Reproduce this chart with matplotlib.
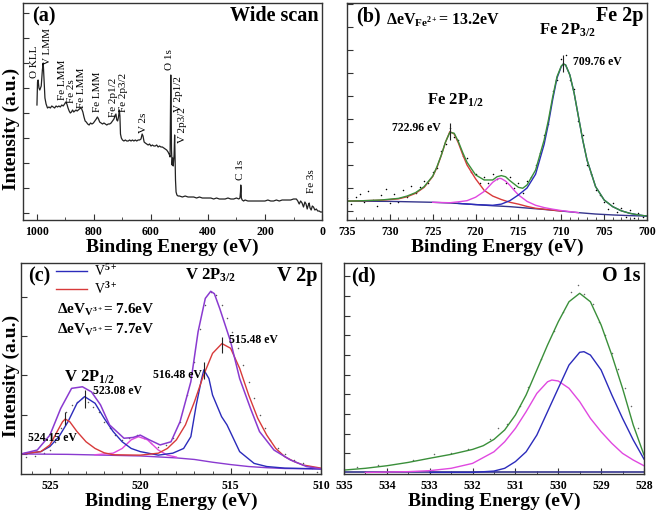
import matplotlib
matplotlib.use("Agg")
import matplotlib.pyplot as plt
from matplotlib.ticker import MultipleLocator

plt.rcParams['font.family'] = ['Liberation Serif', 'DejaVu Serif']
plt.rcParams['mathtext.fontset'] = 'custom'
plt.rcParams['mathtext.rm'] = 'Liberation Serif:bold'
plt.rcParams['mathtext.it'] = 'Liberation Serif:bold'
plt.rcParams['mathtext.bf'] = 'Liberation Serif:bold'

# ---------------- (a) wide scan ----------------
wide_be = [1000, 998, 996, 993, 990, 985, 981, 978, 975, 972, 968, 963, 958, 953, 948, 943, 938, 933,
           928, 923, 918, 913, 908, 903, 899, 895, 891, 887, 883, 879, 875, 871, 867, 863, 859, 855,
           851, 847, 843, 839, 835, 831, 827, 822, 817, 812, 807, 802, 797, 792, 788, 784, 780, 775,
           770, 765, 760, 755, 750, 745, 740, 735, 730, 726, 723, 720, 717, 714, 711, 709, 707, 704,
           700, 695, 690, 685, 680, 675, 670, 665, 660, 655, 650, 645, 640, 635, 631, 628, 624, 620,
           615, 610, 605, 600, 595, 590, 585, 580, 575, 570, 565, 560, 555, 550, 545, 540, 535, 533,
           531.5, 530.5, 529.5, 528, 526, 524, 522, 519, 517, 516, 514, 512, 509, 505, 500, 490, 480,
           470, 460, 450, 440, 430, 420, 410, 400, 390, 380, 370, 360, 350, 340, 330, 320, 310, 300,
           292, 288, 286, 285, 284, 283, 280, 275, 270, 260, 250, 240, 230, 220, 210, 200, 190, 180,
           170, 160, 150, 140, 130, 120, 110, 100, 90, 85, 80, 75, 70, 65, 60, 56, 52, 48, 45, 42, 38,
           34, 30, 25, 20, 15, 10, 5, 2]
wide_int = [4.32, 5.24, 5.32, 5.0, 4.92, 5.08, 5.72, 6.0, 5.32, 4.6, 4.36, 4.2, 4.24, 4.2, 4.28, 4.24,
            4.2, 4.28, 4.24, 4.28, 4.24, 4.32, 4.28, 4.36, 4.44, 4.36, 4.2, 4.08, 4.0, 4.04, 4.12, 4.04,
            4.08, 4.12, 4.08, 4.12, 4.16, 4.2, 4.16, 4.04, 3.84, 3.68, 3.64, 3.56, 3.52, 3.6, 3.56, 3.6,
            3.68, 3.76, 3.84, 3.76, 3.64, 3.6, 3.56, 3.6, 3.56, 3.52, 3.56, 3.56, 3.6, 3.68, 3.76, 3.88,
            3.96, 3.72, 3.68, 3.84, 4.12, 3.88, 3.16, 3.0, 2.92, 2.88, 2.92, 2.88, 2.88, 2.92, 2.88, 2.92,
            2.88, 2.92, 2.88, 2.92, 2.92, 2.96, 3.16, 3.08, 2.84, 2.8, 2.76, 2.72, 2.76, 2.68, 2.72, 2.68,
            2.68, 2.72, 2.64, 2.68, 2.64, 2.64, 2.6, 2.56, 2.52, 2.44, 2.32, 2.24, 4.12, 5.52, 4.52, 2.52,
            1.92, 2.2, 1.88, 2.32, 3.12, 2.52, 1.32, 0.84, 0.72, 0.68, 0.68, 0.64, 0.68, 0.64, 0.64, 0.64,
            0.6, 0.64, 0.6, 0.6, 0.6, 0.6, 0.56, 0.6, 0.56, 0.56, 0.56, 0.6, 0.56, 0.56, 0.6, 0.56, 0.6,
            0.84, 1.12, 1.0, 0.6, 0.52, 0.48, 0.52, 0.48, 0.48, 0.48, 0.48, 0.48, 0.48, 0.48, 0.52, 0.48,
            0.48, 0.52, 0.48, 0.52, 0.52, 0.52, 0.52, 0.56, 0.56, 0.48, 0.36, 0.48, 0.4, 0.24, 0.44, 0.36,
            0.16, 0.32, 0.4, 0.2, 0.12, 0.28, 0.24, 0.12, 0.16, 0.08, 0.08, 0.04, 0.04]
wide_labels = ["O KLL", "V LMM", "Fe LMM", "Fe 2s", "Fe LMM", "Fe LMM", "Fe 2p1/2", "Fe 2p3/2",
               "V 2s", "O 1s", "V 2p1/2", "V 2p3/2", "C 1s", "Fe 3s"]
wide_label_be = [1009, 964, 912, 878, 844, 788, 732, 697, 627, 536, 505, 490, 287, 38]
wide_label_int = [5.4, 5.92, 4.52, 4.4, 4.2, 4.04, 3.84, 4.04, 3.2, 5.72, 4.04, 2.8, 1.32, 0.8]

# ---------------- (b) Fe 2p ----------------
fe_env_be = [735, 733, 731, 729, 728, 727, 726, 725, 724.5, 724, 723.5, 723, 722.5, 722, 721.5, 721,
             720, 719, 718, 717.5, 717, 716.5, 716, 715, 714.5, 714, 713, 712, 711.5, 711, 710.5, 710,
             709.76, 709.5, 709, 708.5, 708, 707.5, 707, 706, 705, 704, 703, 702, 701, 700]
fe_env = [0.43, 0.45, 0.48, 0.55, 0.65, 0.80, 1.06, 1.52, 1.93, 2.43, 3.01, 3.42, 3.38, 3.01, 2.54, 2.12,
          1.57, 1.35, 1.35, 1.49, 1.54, 1.49, 1.32, 1.03, 0.99, 1.13, 1.78, 3.09, 3.96, 4.97, 5.84, 6.30,
          6.39, 6.35, 5.91, 5.12, 4.10, 3.09, 2.22, 1.06, 0.48, 0.19, 0.01, -0.10, -0.17, -0.22]
fe_bg_be = [735, 730, 725, 722, 720, 718, 716, 714, 712, 710, 708, 706, 704, 702, 700]
fe_bg = [0.43, 0.42, 0.38, 0.33, 0.28, 0.23, 0.19, 0.13, 0.07, 0.00, -0.07, -0.13, -0.17, -0.20, -0.22]
fe_red_be = [735, 731, 729, 728, 727, 726, 725, 724.5, 724, 723.5, 723, 722.5, 722, 721.5, 721, 720,
             719, 718, 717, 716, 715, 714, 713, 712, 710]
fe_red = [0.43, 0.47, 0.53, 0.62, 0.77, 1.03, 1.50, 1.90, 2.42, 3.0, 3.45, 3.35, 2.95, 2.45, 2.0, 1.4,
          0.9, 0.65, 0.5, 0.38, 0.3, 0.2, 0.12, 0.08, 0.0]
fe_mag_be = [725, 723, 722, 721, 720, 719, 718.5, 718, 717.5, 717.2, 717, 716.5, 716, 715.5, 715, 714,
             713, 712, 711, 710, 708]
fe_mag = [0.38, 0.36, 0.40, 0.45, 0.6, 0.85, 1.05, 1.25, 1.38, 1.42, 1.41, 1.3, 1.12, 0.9, 0.7, 0.42,
          0.25, 0.15, 0.08, 0.02, -0.07]
fe_blue_be = [722, 720, 718, 717, 716, 715, 714, 713, 712, 711.5, 711, 710.5, 710, 709.76, 709.5, 709,
              708.5, 708, 707.5, 707, 706, 705, 704, 703, 702, 701, 700]
fe_blue = [0.33, 0.28, 0.25, 0.3, 0.45, 0.7, 1.0, 1.6, 2.9, 3.8, 4.85, 5.78, 6.28, 6.39, 6.35, 5.91,
           5.12, 4.10, 3.09, 2.22, 1.06, 0.48, 0.19, 0.01, -0.1, -0.17, -0.22]
fe_raw_be = [735, 734.5, 734, 733.5, 733, 732.5, 732, 731.5, 731, 730.5, 730, 729.5, 729, 728.5, 728,
             727.5, 727, 726.5, 726, 725.5, 725, 724.5, 724, 723.5, 723, 722.5, 722, 721.5, 721, 720.5,
             720, 719.5, 719, 718.5, 718, 717.5, 717, 716.5, 716, 715.5, 715, 714.5, 714, 713.5, 713,
             712.5, 712, 711.5, 711, 710.5, 710, 709.5, 709, 708.5, 708, 707.5, 707, 706.5, 706, 705.5,
             705, 704.5, 704, 703.5, 703, 702.5, 702, 701.5, 701, 700.5, 700]
fe_raw = [0.55, 0.3, 0.6, 0.75, 0.4, 0.85, 0.5, 0.2, 0.7, 0.95, 0.35, 0.75, 0.4, 0.9, 0.6, 1.1, 0.8,
          1.05, 1.3, 1.2, 1.7, 1.85, 2.6, 2.9, 3.6, 3.2, 3.1, 2.4, 2.3, 1.7, 1.6, 1.2, 1.5, 1.2, 1.6,
          1.4, 1.8, 1.2, 1.5, 1.0, 1.2, 0.8, 1.3, 1.5, 2.0, 2.5, 3.3, 3.8, 5.2, 5.7, 6.6, 6.8, 5.7,
          5.3, 3.9, 3.3, 2.0, 1.6, 0.9, 0.7, 0.4, 0.1, 0.35, -0.05, 0.15, -0.25, 0.05, -0.3, -0.1,
          -0.25, -0.2]
fe_peaks = [722.96, 709.76]

# ---------------- (c) V 2p ----------------
v_bg_be = [526.6, 524, 522, 520, 518, 517, 516, 515, 514, 513, 512, 510]
v_bg = [0.0, -0.01, -0.03, -0.05, -0.10, -0.14, -0.21, -0.27, -0.32, -0.35, -0.37, -0.38]
v_env_be = [526.6, 525.7, 525.0, 524.4, 523.8, 523.2, 522.7, 522.2, 521.7, 520.9, 520.4, 520.0, 519.5,
            518.9, 518.3, 517.8, 517.2, 516.8, 516.4, 516.1, 515.9, 515.6, 515.0, 514.5, 513.9, 513.4,
            512.6, 511.7, 510.8, 510.0]
v_env = [0.0, 0.10, 0.48, 1.16, 1.67, 1.71, 1.58, 1.25, 0.74, 0.40, 0.42, 0.48, 0.36, 0.23, 0.31, 0.82,
         1.84, 3.11, 3.96, 4.14, 4.08, 3.70, 2.86, 1.92, 1.16, 0.57, 0.10, -0.15, -0.32, -0.38]
v5_be = [526.6, 525.5, 525, 524.5, 524, 523.5, 523.08, 522.5, 522, 521.5, 521, 520.5, 520, 519, 518.2,
         517.6, 517.2, 516.9, 516.6, 516.48, 516.2, 516.0, 515.5, 515.2, 514.5, 513.7, 513, 512, 510]
v5 = [0.0, 0.06, 0.19, 0.44, 0.82, 1.29, 1.46, 1.29, 0.91, 0.57, 0.31, 0.14, 0.06, -0.03, 0.02, 0.14,
      0.44, 1.25, 1.92, 2.14, 1.92, 1.5, 0.95, 0.74, 0.06, -0.24, -0.32, -0.36, -0.38]
v3_be = [526.6, 525.5, 525, 524.6, 524.3, 524.15, 523.9, 523.5, 523, 522.5, 522, 521.5, 520, 519,
         518.5, 518, 517.5, 517, 516.5, 516, 515.48, 515, 514.5, 514, 513.5, 513, 512.5, 512, 511.5,
         511, 510]
v3 = [0.0, 0.06, 0.23, 0.57, 0.82, 0.89, 0.82, 0.57, 0.31, 0.14, 0.03, -0.02, -0.03, 0.02, 0.14, 0.36,
      0.74, 1.33, 2.0, 2.56, 2.81, 2.69, 2.18, 1.50, 0.91, 0.48, 0.14, -0.07, -0.19, -0.28, -0.36]
v_sat_be = [522.5, 521.5, 521, 520.5, 520.1, 519.6, 519, 518.5, 518]
v_sat = [-0.02, 0.02, 0.14, 0.36, 0.44, 0.36, 0.10, -0.03, -0.08]
v_raw_be = [526.3, 525.8, 525.3, 525.0, 524.7, 524.4, 524.1, 523.8, 523.5, 523.2, 522.9, 522.6, 522.3,
            522.0, 521.7, 521.4, 521.0, 520.6, 520.2, 519.8, 519.4, 519.0, 518.6, 518.2, 517.8, 517.4,
            517.0, 516.7, 516.4, 516.1, 515.8, 515.5, 515.2, 514.9, 514.6, 514.3, 514.0, 513.7, 513.4,
            513.1, 512.8, 512.4, 512.0, 511.5, 511.0, 510.5, 510.2]
v_raw = [-0.07, -0.05, 0.02, 0.10, 0.31, 0.65, 1.08, 1.25, 1.33, 1.42, 1.33, 1.20, 1.08, 0.82, 0.65,
         0.48, 0.36, 0.40, 0.48, 0.40, 0.27, 0.19, 0.23, 0.40, 0.82, 1.50, 2.35, 3.19, 3.79, 4.13, 4.04,
         3.79, 3.45, 3.11, 2.69, 2.26, 1.84, 1.42, 0.99, 0.65, 0.36, 0.14, -0.01, -0.15, -0.24, -0.36,
         -0.45]
v_peaks = [524.15, 523.08, 516.48, 515.48]

# ---------------- (d) O 1s ----------------
o_bg_be = [535, 528]
o_bg = [-0.95, -0.95]
o_env_be = [535, 534.5, 534, 533.5, 533, 532.5, 532, 531.75, 531.5, 531.25, 531, 530.75, 530.5, 530.25,
            530, 529.75, 529.5, 529.25, 529, 528.75, 528.5, 528.25, 528]
o_env = [-0.85, -0.76, -0.63, -0.46, -0.25, -0.05, 0.20, 0.39, 0.71, 1.19, 1.95, 2.97, 4.24, 5.51, 6.69,
         7.71, 8.14, 7.71, 6.53, 5.0, 3.31, 1.44, -0.08]
o_blue_be = [533, 532, 531.5, 531.25, 531, 530.75, 530.5, 530.25, 530, 529.75, 529.5, 529.4, 529.25,
             529, 528.75, 528.5, 528.25, 528]
o_blue = [-0.97, -0.97, -0.9, -0.76, -0.42, 0.08, 0.93, 2.12, 3.31, 4.49, 5.14, 5.17, 5.0, 4.24, 2.97,
          1.78, 0.68, -0.29]
o_mag_be = [534.5, 533.5, 533, 532.5, 532, 531.5, 531.25, 531, 530.75, 530.5, 530.25, 530.15, 530,
            529.75, 529.5, 529.25, 529, 528.75, 528.5, 528.25, 528]
o_mag = [-0.97, -0.93, -0.88, -0.76, -0.51, 0.08, 0.59, 1.27, 2.12, 3.05, 3.64, 3.73, 3.68, 3.31, 2.63,
         1.78, 1.10, 0.51, 0.0, -0.34, -0.63]
o_raw_be = [534.7, 534.2, 533.4, 532.9, 532.5, 532.1, 531.6, 531.4, 531.2, 530.9, 530.7, 530.4, 530.1,
            529.9, 529.7, 529.55, 529.4, 529.2, 529.05, 528.9, 528.75, 528.6, 528.45, 528.3, 528.15]
o_raw = [-0.7, -0.6, -0.35, -0.05, 0.0, 0.2, 0.75, 1.3, 1.5, 2.4, 3.4, 4.8, 6.2, 7.2, 8.2, 8.55, 8.1,
         7.6, 6.7, 6.0, 5.1, 4.3, 3.3, 2.4, 1.3]

GREEN = '#3a8f3a'
BLUE = '#2b2bbb'
RED = '#d83a3a'
MAG = '#e048e0'
PURP = '#8a3ad0'
NAVY = '#34348c'
SPINE = '#333333'

fig = plt.figure(figsize=(6.6, 5.15), dpi=100)
axa = fig.add_axes([0.0344, 0.5728, 0.4535, 0.4214])
axb = fig.add_axes([0.5258, 0.5728, 0.4545, 0.4214])
axc = fig.add_axes([0.0318, 0.0796, 0.4545, 0.4097])
axd = fig.add_axes([0.5212, 0.0796, 0.4545, 0.4097])


def style(ax, xlim, ylim, major, minor, yticks):
    ax.set_xlim(*xlim)
    ax.set_ylim(*ylim)
    ax.xaxis.set_major_locator(MultipleLocator(major))
    ax.xaxis.set_minor_locator(MultipleLocator(minor))
    ax.set_yticks(yticks)
    ax.set_yticklabels([])
    ax.tick_params(axis='x', which='major', direction='in', length=4, width=0.8, pad=4.5,
                   labelsize=8.5, colors=SPINE)
    ax.tick_params(axis='x', which='minor', direction='in', length=2, width=0.6, colors=SPINE)
    ax.tick_params(axis='y', direction='in', length=4, width=0.8, colors=SPINE)
    for lab in ax.get_xticklabels():
        lab.set_fontweight('bold')
        lab.set_color('black')
    for s in ax.spines.values():
        s.set_color(SPINE)
        s.set_linewidth(1.0)
    ax.set_xlabel('Binding Energy (eV)', fontsize=14, fontweight='bold', labelpad=0)


# (a)
axa.plot(wide_be, wide_int, color='#222222', lw=0.9)
for lab, bx, by in zip(wide_labels, wide_label_be, wide_label_int):
    axa.text(bx, by, lab, rotation=90, ha='center', va='bottom', fontsize=8)
style(axa, (1050, 0), (-0.28, 8.4), 200, 100, range(0, 9))
axa.text(0.03, 0.985, '(a)', transform=axa.transAxes, ha='left', va='top', fontsize=14.5,
         fontweight='bold')
axa.text(0.99, 0.985, 'Wide scan', transform=axa.transAxes, ha='right', va='top', fontsize=14.5,
         fontweight='bold')

# (b)
axb.scatter(fe_raw_be, fe_raw, s=1.2, color='black', linewidths=0)
axb.plot(fe_bg_be, fe_bg, color=NAVY, lw=1.0)
axb.plot(fe_red_be, fe_red, color=RED, lw=1.0)
axb.plot(fe_mag_be, fe_mag, color=MAG, lw=1.0)
axb.plot(fe_blue_be, fe_blue, color=BLUE, lw=1.0)
axb.plot(fe_env_be, fe_env, color=GREEN, lw=1.0)
axb.vlines(fe_peaks, [3.09, 6.06], [3.81, 6.78], color='#222222', lw=0.8)
style(axb, (735, 700), (-0.39, 9.04), 5, 1, range(0, 10))
axb.text(0.03, 0.985, '(b)', transform=axb.transAxes, ha='left', va='top', fontsize=14.5,
         fontweight='bold')
axb.text(0.99, 0.985, 'Fe 2p', transform=axb.transAxes, ha='right', va='top', fontsize=14.5,
         fontweight='bold')
axb.text(730.5, 8.3, r'ΔeV$_{\mathrm{Fe}^{2+}}$= 13.2eV', ha='left', va='center', fontsize=11.5,
         fontweight='bold')
axb.text(709.25, 7.87, r'Fe 2P$_{3/2}$', ha='center', va='center', fontsize=12, fontweight='bold')
axb.text(722.4, 4.83, r'Fe 2P$_{1/2}$', ha='center', va='center', fontsize=12, fontweight='bold')
axb.text(724.1, 3.6, '722.96 eV', ha='right', va='center', fontsize=8.5, fontweight='bold')
axb.text(708.6, 6.46, '709.76 eV', ha='left', va='center', fontsize=8.5, fontweight='bold')

# (c)
axc.scatter(v_raw_be, v_raw, s=1.2, color='#555555', linewidths=0)
axc.plot(v_bg_be, v_bg, color=PURP, lw=1.0)
axc.plot(v_sat_be, v_sat, color=MAG, lw=1.0)
l5, = axc.plot(v5_be, v5, color=BLUE, lw=1.0, label=r'V$^{5+}$')
l3, = axc.plot(v3_be, v3, color=RED, lw=1.0, label=r'V$^{3+}$')
axc.plot(v_env_be, v_env, color=PURP, lw=1.1)
axc.vlines(v_peaks, [0.74, 1.16, 1.92, 2.56], [1.08, 1.63, 2.35, 2.98], color='#222222', lw=0.8)
style(axc, (526.6, 510), (-0.51, 4.86), 5, 1, range(0, 5))
axc.text(0.025, 0.985, '(c)', transform=axc.transAxes, ha='left', va='top', fontsize=14.5,
         fontweight='bold')
axc.text(0.99, 0.985, 'V 2p', transform=axc.transAxes, ha='right', va='top', fontsize=14.5,
         fontweight='bold')
axc.legend(handles=[l5, l3], loc='upper left', bbox_to_anchor=(0.085, 1.045), frameon=False,
           fontsize=10, handlelength=2.2, labelspacing=0.15, handletextpad=0.5, borderaxespad=0.3)
axc.text(524.6, 3.67, r'ΔeV$_{\mathrm{V}^{3+}}$= 7.6eV', ha='left', va='center', fontsize=11,
         fontweight='bold')
axc.text(524.6, 3.15, r'ΔeV$_{\mathrm{V}^{5+}}$= 7.7eV', ha='left', va='center', fontsize=11,
         fontweight='bold')
axc.text(516.1, 4.55, r'V 2P$_{3/2}$', ha='center', va='center', fontsize=12, fontweight='bold')
axc.text(522.8, 1.95, r'V 2P$_{1/2}$', ha='center', va='center', fontsize=12, fontweight='bold')
axc.text(522.6, 1.60, '523.08 eV', ha='left', va='center', fontsize=8.5, fontweight='bold')
axc.text(526.2, 0.40, '524.15 eV', ha='left', va='center', fontsize=8.5, fontweight='bold')
axc.text(516.6, 2.00, '516.48 eV', ha='right', va='center', fontsize=8.5, fontweight='bold')
axc.text(515.1, 2.90, '515.48 eV', ha='left', va='center', fontsize=8.5, fontweight='bold')

# (d)
axd.scatter(o_raw_be, o_raw, s=1.2, color='#666666', linewidths=0)
axd.plot(o_bg_be, o_bg, color=NAVY, lw=1.2)
axd.plot(o_mag_be, o_mag, color=MAG, lw=1.0)
axd.plot(o_blue_be, o_blue, color=BLUE, lw=1.0)
axd.plot(o_env_be, o_env, color=GREEN, lw=1.0)
style(axd, (535, 528), (-1.05, 9.68), 1, 0.5, range(0, 10))
axd.text(0.025, 0.985, '(d)', transform=axd.transAxes, ha='left', va='top', fontsize=14.5,
         fontweight='bold')
axd.text(0.99, 0.985, 'O 1s', transform=axd.transAxes, ha='right', va='top', fontsize=14.5,
         fontweight='bold')

fig.text(11.5 / 660, 1 - 129 / 515, 'Intensity (a.u.)', rotation=90, ha='center', va='center',
         fontsize=14, fontweight='bold')
fig.text(11.5 / 660, 1 - 376 / 515, 'Intensity (a.u.)', rotation=90, ha='center', va='center',
         fontsize=14, fontweight='bold')

fig.savefig('out.png', dpi=100)
